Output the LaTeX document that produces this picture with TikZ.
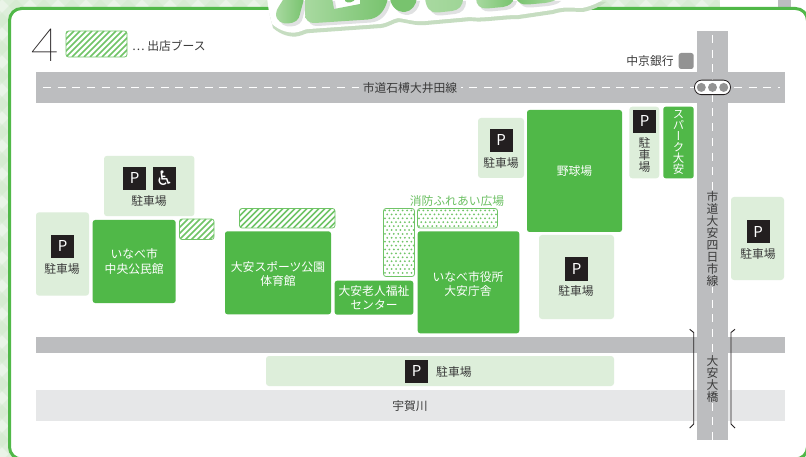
\documentclass[tikz,border=0pt]{standalone}
\usepackage{fontspec}
\setmainfont{Noto Sans CJK JP}
\newfontfamily\vfont[RawFeature=+vert]{Noto Sans CJK JP}
\newfontfamily\thinfont{Poppins Thin}
\newfontfamily\iconfont{DejaVu Sans}
\definecolor{frameg}{HTML}{50B848}
\definecolor{lotg}{HTML}{DDEEDA}
\definecolor{paleg}{HTML}{EAF4E8}
\definecolor{bandg}{HTML}{CFE8CA}
\definecolor{roadg}{HTML}{BCBDBF}
\definecolor{riverg}{HTML}{E6E7E8}
\definecolor{inkc}{HTML}{3A3A3A}
\definecolor{stripeg}{HTML}{70C467}
\definecolor{labelg}{HTML}{6CC063}
\definecolor{shadowg}{HTML}{C6DDC1}
\definecolor{blobshade}{HTML}{E0E1E2}
\definecolor{bloba}{HTML}{A8D9A0}
\definecolor{blobb}{HTML}{78C36E}
\definecolor{sqk}{HTML}{231F20}
\tikzset{
  jp/.style={font=\fontsize{11.8pt}{14.6pt}\selectfont,text=inkc,inner sep=0pt,align=center},
  jpw/.style={jp,text=white},
  vjp/.style={font=\fontsize{11.8pt}{12pt}\selectfont\vfont,text=inkc,inner sep=0pt,align=center},
  bld/.style={fill=frameg,rounded corners=2.5pt,inner sep=0pt},
  lot/.style={fill=lotg,rounded corners=3pt,inner sep=0pt},
  psq/.style={fill=sqk,text=white,minimum width=23pt,minimum height=23pt,inner sep=0pt,font=\fontsize{15pt}{15pt}\selectfont},
  roadtxt/.style={fill=roadg,inner xsep=4pt,inner ysep=1pt},
  dashw/.style={white,line width=1pt,dash pattern=on 8pt off 6.7pt},
  lampc/.style={circle,fill=gray!85!white,minimum size=9pt,inner sep=0pt}
}
% x1 y1 x2 y2
\newcommand{\hatchbox}[4]{%
  \begin{scope}
    \clip[rounded corners=2.5pt] (#1,#2) rectangle (#3,#4);
    \fill[white] (#1,#2) rectangle (#3,#4);
    \foreach \k in {-30,-24,...,120}{
      \draw[stripeg,line width=1.5pt] ({#1+\k},#4) -- ({#1+\k+#4-#2},#2);
    }
  \end{scope}
  \draw[stripeg,line width=.8pt,rounded corners=2.5pt] (#1,#2) rectangle (#3,#4);
}
% x1 y1 x2 y2 cols rows
\newcommand{\dotbox}[6]{%
  \begin{scope}
    \clip[rounded corners=2.5pt] (#1,#2) rectangle (#3,#4);
    \fill[white] (#1,#2) rectangle (#3,#4);
    \foreach \r in {0,...,#6}{
      \foreach \c in {0,...,#5}{
        \fill[stripeg] ({#1+1.5+\c*4.4+mod(\r,2)*2.2},{#2+2+\r*3.9}) circle (1pt);
      }
    }
  \end{scope}
  \draw[stripeg,line width=.8pt,rounded corners=2.5pt] (#1,#2) rectangle (#3,#4);
}
\def\blobOne{(284,-2) .. controls (281,4) and (276,9) .. (276,14) .. controls (276,21) and (282,24) .. (288,23.5) .. controls (295,23) and (299,20) .. (300,14) .. controls (301,9) and (303,4) .. (304,-2) -- cycle}
\def\blobTwo{(305,-2) -- (305,14) .. controls (305,20) and (309,23.5) .. (315,23) -- (368,19.5) .. controls (378,18.5) and (385,12) .. (388,-2) -- (360,-2) -- (360,4) -- (334,9) -- (332,-2) -- cycle}
\def\blobThree{(390,-2) .. controls (391,6) and (396,12) .. (405,12) .. controls (412,11) and (416,5) .. (417,-2) -- cycle}
\def\blobFour{(425,-2) .. controls (426,8) and (430,13) .. (438,12.5) -- (452,11) .. controls (459,10) and (463,6) .. (463,-2) -- cycle}
\def\blobFive{(476,-2) .. controls (476,5) and (480,9) .. (487,8.5) -- (503,7) .. controls (509,6) and (513,3) .. (514,-2) -- cycle}
\def\blobSix{(516,-2) .. controls (518,3) and (522,5) .. (528,4.5) -- (545,3) .. controls (551,2) and (555,1) .. (558,-2) -- cycle}
\def\blobEdge{(267,-2) -- (269,12) -- (272,24) .. controls (280,31) and (290,34) .. (298,32) .. controls (303,31) and (304,29) .. (309,29) -- (380,24) .. controls (388,23) and (392,19) .. (398,18) .. controls (407,19) and (414,22) .. (425,21) -- (470,17) .. controls (480,19) and (500,15) .. (518,15) -- (552,10) .. controls (565,6) and (572,8) .. (582,8) .. controls (592,6) and (600,2) .. (605,-2) -- cycle}
\begin{document}
\begin{tikzpicture}[x=1pt,y=-1pt]
\path[use as bounding box,clip] (0,0) rectangle (806,457);
% backdrop plaid
\fill[paleg] (0,0) rectangle (806,457);
\begin{scope}
  \clip (0,0) rectangle (720,12) (0,0) rectangle (12,457);
  \foreach \k in {-476,-448,...,1232}{
    \draw[bandg,opacity=.45,line width=10pt] (\k,-10) -- ({\k+480},470);
    \draw[bandg,opacity=.45,line width=10pt] ({\k+480},-10) -- (\k,470);
  }
\end{scope}
\fill[white] (720,0) rectangle (806,12);
\fill[roadg] (778,0) rectangle (791,7);
% frame
\draw[frameg,line width=3pt,fill=white,rounded corners=12pt] (9.5,8.5) rectangle (807.5,459);
% heading
\fill[shadowg,shift={(1,4)}] \blobEdge;
\fill[white] \blobEdge;
\foreach \b in {\blobOne,\blobTwo,\blobThree,\blobFour,\blobFive,\blobSix}{
  \fill[blobshade,shift={(3,3)}] \b;
}
\shade[left color=bloba,right color=blobb] \blobOne;
\shade[left color=bloba,right color=blobb] \blobTwo;
\shade[left color=blobb,right color=blobb] \blobThree;
\shade[left color=bloba,right color=bloba!80!blobb] \blobFour;
\shade[left color=bloba,right color=blobb] \blobFive;
\shade[left color=blobb,right color=bloba] \blobSix;
\fill[blobb] (345,-2) -- (345,1) .. controls (347,3.5) and (354,3) .. (356,-2) -- cycle;
% legend
\node[font=\fontsize{46pt}{46pt}\thinfont,text=sqk,inner sep=0pt] (four) at (44.5,45) {4};
\hatchbox{66}{31}{127}{57}
\node[jp,anchor=west] (legend) at (132,45.5) {… 出店ブース};
% roads
\fill[riverg] (36,390) rectangle (785,421);
\fill[roadg] (36,337) rectangle (785,353);
\fill[roadg] (36,72) rectangle (785,103);
\fill[roadg] (697,31) rectangle (728,440);
\draw[dashw] (43,87.5) -- (780,87.5);
\draw[dashw] (712.5,35) -- (712.5,440);
\node[jp,roadtxt] (r1) at (410,88) {市道石榑大井田線};
\node[vjp,roadtxt,inner xsep=1pt] (r2) at (712.5,238.5) {市\\道\\大\\安\\四\\日\\市\\線};
\node[vjp,roadtxt,inner xsep=1pt] (r3) at (712.5,379) {大\\安\\大\\橋};
\node[jp] (river) at (410,406) {宇賀川};
% bridge
\draw[sqk,line width=.9pt] (689.7,329.3) -- (693.7,332.5) -- (693.7,424) -- (689.7,428);
\draw[sqk,line width=.9pt] (735,329.3) -- (731,332.5) -- (731,424) -- (735,428);
% signal + bank
\node[fill=white,draw=sqk,line width=.8pt,rounded corners=7pt,minimum width=36pt,minimum height=14.5pt,inner sep=0pt] (signal) at (712.5,87.4) {};
\node[lampc] (l1) at (701.3,87.4) {};
\node[lampc] (l2) at (712.5,87.4) {};
\node[lampc] (l3) at (723.7,87.4) {};
\node[jp] (bank) at (650,61.5) {中京銀行};
\node[fill=gray!85!white,rounded corners=2.5pt,minimum width=15pt,minimum height=16pt,inner sep=0pt] (banksq) at (686.2,61) {};
% parking lots
\node[lot,minimum width=53pt,minimum height=83.4pt] (lotA) at (62.5,254) {};
\node[psq] (pA) at (62.5,246.5) {P};
\node[jp] (tA) at (62,269) {駐車場};
\node[lot,minimum width=90.4pt,minimum height=60.4pt] (lotB) at (149.2,186) {};
\node[psq] (pB) at (134.5,178.5) {P};
\node[psq,font=\fontsize{20pt}{20pt}\iconfont] (pW) at (164.5,178.5) {♿};
\node[jp] (tB) at (149,201) {駐車場};
\node[lot,minimum width=46pt,minimum height=60pt] (lotC) at (501,148) {};
\node[psq] (pC) at (501,140.5) {P};
\node[jp] (tC) at (501,163) {駐車場};
\node[lot,minimum width=75pt,minimum height=84pt] (lotD) at (576.5,277) {};
\node[psq] (pD) at (576.5,269) {P};
\node[jp] (tD) at (576,291.5) {駐車場};
\node[lot,minimum width=30pt,minimum height=71.6pt] (lotE) at (644.3,142.5) {};
\node[psq] (pE) at (644.5,121.5) {P};
\node[vjp] (tE) at (644.5,155.5) {駐\\車\\場};
\node[lot,minimum width=53pt,minimum height=83pt] (lotF) at (757.5,238.5) {};
\node[psq] (pF) at (758,232) {P};
\node[jp] (tF) at (758,254) {駐車場};
\node[lot,minimum width=348pt,minimum height=30pt] (lotG) at (440,371) {};
\node[psq] (pG) at (416.5,371.5) {P};
\node[jp,anchor=west] (tG) at (436,372) {駐車場};
% buildings
\node[bld,minimum width=83pt,minimum height=83pt] (kominkan) at (134.2,261.5) {};
\node[jpw] at (kominkan) {いなべ市\\中央公民館};
\node[bld,minimum width=106pt,minimum height=83pt] (taiikukan) at (278,272.8) {};
\node[jpw] at (278,274) {大安スポーツ公園\\体育館};
\node[bld,minimum width=78.6pt,minimum height=34pt] (rojin) at (374,297.7) {};
\node[jpw] at (rojin) {大安老人福祉\\センター};
\node[bld,minimum width=101.6pt,minimum height=102pt] (yakusho) at (468.5,282.3) {};
\node[jpw] at (468,284) {いなべ市役所\\大安庁舎};
\node[bld,minimum width=95pt,minimum height=122pt] (yakyu) at (574.5,171) {};
\node[jpw] at (yakyu) {野球場};
\node[bld,minimum width=30.4pt,minimum height=71.6pt] (spark) at (678.5,142.5) {};
\node[vjp,text=white,font=\fontsize{11.4pt}{10.9pt}\selectfont\vfont] at (spark) {ス\\パ\\ー\\ク\\大\\安};
% booths
\hatchbox{179.5}{219}{214}{239.5}
\hatchbox{239.5}{208.5}{335}{228}
\dotbox{383.5}{208.5}{414.5}{276.5}{7}{17}
\dotbox{417.5}{208.5}{497.5}{228}{18}{5}
\node[jp,text=labelg] (plaza) at (457,201) {消防ふれあい広場};
\end{tikzpicture}
\end{document}
